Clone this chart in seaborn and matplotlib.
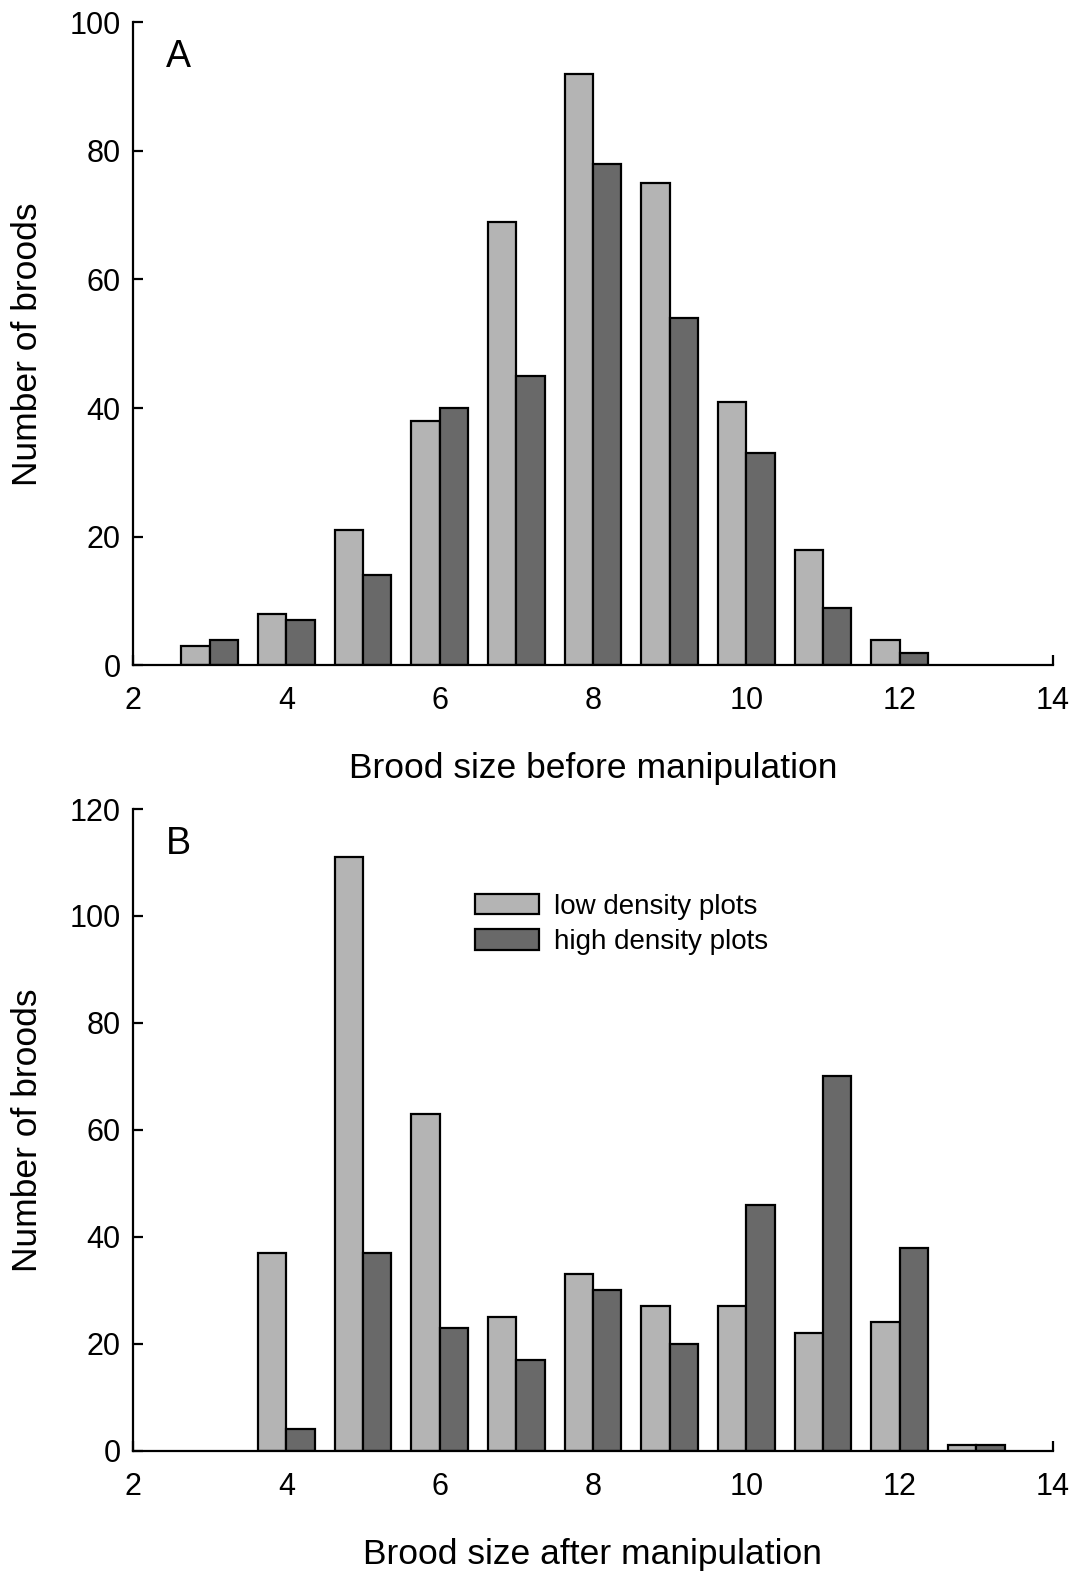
import pandas as pd
import matplotlib
matplotlib.use("Agg")
import matplotlib.pyplot as plt
import seaborn as sns

# brood size counts
sizes_a = [3, 4, 5, 6, 7, 8, 9, 10, 11, 12]
low_a = [3, 8, 21, 38, 69, 92, 75, 41, 18, 4]
high_a = [4, 7, 14, 40, 45, 78, 54, 33, 9, 2]

sizes_b = [4, 5, 6, 7, 8, 9, 10, 11, 12, 13]
low_b = [37, 111, 63, 25, 33, 27, 27, 22, 24, 1]
high_b = [4, 37, 23, 17, 30, 20, 46, 70, 38, 1]

groups = ["low density plots", "high density plots"]
colors = {"low density plots": "#b4b4b4", "high density plots": "#696969"}

def long_df(sizes, low, high):
    return pd.DataFrame({
        "size": sizes + sizes,
        "count": low + high,
        "group": [groups[0]] * len(sizes) + [groups[1]] * len(sizes),
    })

df_a = long_df(sizes_a, low_a, high_a)
df_b = long_df(sizes_b, low_b, high_b)

sns.set_style("ticks", rc={"axes.edgecolor": "black", "text.color": "black",
                           "axes.labelcolor": "black", "xtick.color": "black",
                           "ytick.color": "black"})
plt.rcParams["font.family"] = ["Liberation Sans", "DejaVu Sans"]

fig = plt.figure(figsize=(10.81, 15.77), dpi=100)
ax1 = fig.add_axes([0.123, 0.578, 0.851, 0.408])
ax2 = fig.add_axes([0.123, 0.080, 0.851, 0.407])

panels = [
    (ax1, df_a, 100, "Brood size before manipulation", "A"),
    (ax2, df_b, 120, "Brood size after manipulation", "B"),
]

for ax, d, ymax, xlab, letter in panels:
    sns.barplot(data=d, x="size", y="count", hue="group", hue_order=groups,
                palette=colors, native_scale=True, width=0.74, errorbar=None,
                edgecolor="black", linewidth=1.6, ax=ax)
    ax.set_xlim(2, 14)
    ax.set_ylim(0, ymax)
    ax.set_xticks(range(2, 15, 2))
    ax.set_yticks(range(0, ymax + 1, 20))
    ax.tick_params(direction="in", length=7, width=1.6, labelsize=22)
    ax.tick_params(axis="x", pad=15)
    ax.tick_params(axis="y", pad=9)
    for s in ["top", "right"]:
        ax.spines[s].set_visible(False)
    for s in ["left", "bottom"]:
        ax.spines[s].set_linewidth(1.6)
    ax.set_xlabel(xlab, fontsize=25.5, labelpad=26)
    ax.set_ylabel("Number of broods", fontsize=25.5, labelpad=18)
    ax.text(0.049, 0.945, letter, transform=ax.transAxes, fontsize=27,
            ha="center", va="center")

ax1.get_legend().remove()
handles = ax2.get_legend().legend_handles
ax2.get_legend().remove()
ax2.legend(handles, groups, loc="upper left", bbox_to_anchor=(0.36, 0.885),
           frameon=False, fontsize=20, handlelength=2.3, handleheight=0.75,
           handletextpad=0.55, labelspacing=0.33, borderaxespad=0)

fig.savefig("out.png", dpi=100)
